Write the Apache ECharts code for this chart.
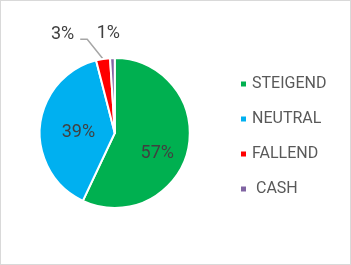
<!DOCTYPE html>
<html><head><meta charset="utf-8">
<script src="https://cdn.jsdelivr.net/npm/echarts@6/dist/echarts.min.js"></script>
<style>html,body{margin:0;padding:0;background:#fff}#c{width:351px;height:265px;box-sizing:border-box;border:1px solid #d9d9d9}</style>
</head><body><div id="c"></div>
<script>
const categories = ['STEIGEND', 'NEUTRAL', 'FALLEND', ' CASH'];
const values = [57, 39, 3, 1];
const colors = ['#00B050', '#00B0F0', '#FF0000', '#8064A2'];

const chart = echarts.init(document.getElementById('c'));
const data = categories.map((n, i) => {
  const d = { name: n, value: values[i], itemStyle: { color: colors[i] } };
  if (i < 2) {
    d.label = { position: 'inside', align: 'center', verticalAlign: 'middle' };
  } else if (i === 2) {
    d.label = { position: 'outside' };
    d.labelLine = { show: true, length: 18, length2: 14, lineStyle: { color: '#a6a6a6', width: 1.5 } };
  } else {
    d.label = { position: 'outside' };
    d.labelLine = { show: false, length: 12, length2: 0 };
  }
  return d;
});
const labelShift = [[3, 12], [4, 3], [-7, -7], [13, -13]];
chart.setOption({
  animation: false,
  legend: {
    orient: 'vertical', left: 233, top: 70, itemWidth: 7, itemHeight: 7, itemGap: 19,
    icon: 'rect', textStyle: { color: '#595959', fontFamily: 'Roboto', fontSize: 16 },
    data: categories
  },
  series: [{
    type: 'pie', center: ['32.6%', '50.2%'], radius: 75, startAngle: 90, clockwise: true,
    avoidLabelOverlap: false,
    itemStyle: { borderColor: '#fff', borderWidth: 2 },
    label: { formatter: '{c}%', color: '#404040', fontFamily: 'Roboto', fontSize: 18 },
    labelLayout: function (p) {
      const s = labelShift[p.dataIndex];
      const out = { dx: s[0], dy: s[1] };
      if (p.dataIndex === 2 && p.labelLinePoints) {
        const q = p.labelLinePoints;
        const c = [q[1][0] - 13, q[1][1] - 2];
        out.labelLinePoints = [q[0], c, [c[0] - 7, c[1]]];
      }
      return out;
    },
    data: data
  }]
});
</script></body></html>
